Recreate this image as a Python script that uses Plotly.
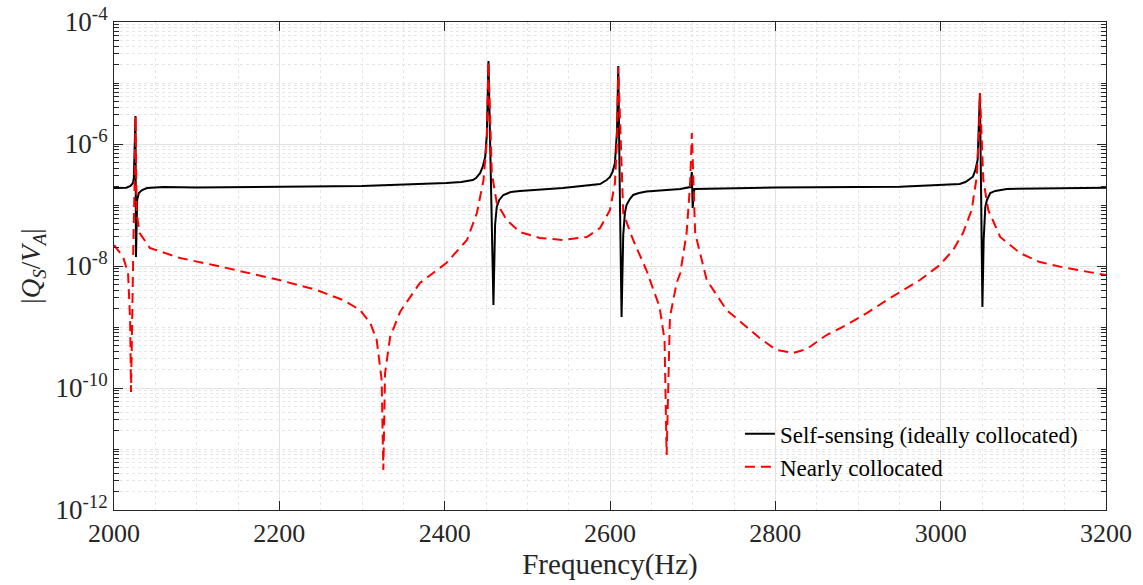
import plotly.graph_objects as go

# Self-sensing (ideally collocated) curve: frequency (Hz) and |Qs/Va|
freq_self = [2000, 2015, 2020, 2023, 2024, 2025, 2026, 2026.6, 2028, 2030, 2034, 2040, 2060, 2100,
             2200, 2300, 2402, 2420, 2434, 2438, 2443, 2446, 2449, 2451, 2453, 2456, 2459, 2461,
             2463, 2466, 2471, 2480, 2491, 2543, 2588, 2596, 2600, 2603, 2606, 2608.5, 2610, 2612,
             2614, 2616, 2618, 2620, 2624, 2628, 2635, 2644, 2685, 2697, 2699, 2700, 2702, 2800,
             2951, 3023, 3030, 3039, 3042, 3044.7, 3046.5, 3047.5, 3049, 3050.5, 3052, 3054, 3056,
             3060, 3066, 3080, 3200]
mag_self = [1.90e-7, 1.92e-7, 2.05e-7, 2.30e-7, 2.77e-7, 7.98e-7, 2.88e-6, 1.41e-8, 1.21e-7, 1.57e-7,
            1.76e-7, 1.90e-7, 1.97e-7, 1.94e-7,
            1.97e-7, 2.05e-7, 2.30e-7, 2.38e-7, 2.57e-7, 2.77e-7, 3.35e-7, 4.20e-7, 6.12e-7, 1.41e-6,
            2.30e-5, 1.21e-7, 2.30e-9, 4.70e-8,
            9.27e-8, 1.21e-7, 1.46e-7, 1.63e-7, 1.70e-7, 1.90e-7, 2.21e-7, 2.57e-7, 2.88e-7, 3.47e-7,
            4.88e-7, 1.70e-6, 1.90e-5, 1.21e-7,
            1.46e-9, 3.22e-8, 7.39e-8, 1.00e-7, 1.25e-7, 1.46e-7, 1.57e-7, 1.66e-7, 1.83e-7, 1.97e-7,
            3.47e-7, 8.93e-8, 1.83e-7, 1.94e-7,
            2.00e-7, 2.21e-7, 2.38e-7, 2.91e-7, 3.75e-7, 5.47e-7, 2.05e-6, 6.85e-6, 1.21e-7, 2.13e-9,
            2.67e-8, 9.27e-8, 1.21e-7,
            1.57e-7, 1.70e-7, 1.83e-7, 1.92e-7]

# Nearly collocated curve
freq_near = [2000, 2011, 2017, 2019.5, 2020.6, 2022, 2023.4, 2025, 2026, 2027.4, 2031, 2043.5, 2080,
             2120, 2164.5, 2200, 2245, 2277, 2297.6, 2310, 2317.8, 2323.8, 2325.8, 2327.9, 2334,
             2346, 2350, 2370, 2402, 2427, 2439, 2447, 2451, 2453, 2457, 2463, 2475, 2491, 2515,
             2543, 2572, 2588, 2600, 2606, 2608.5, 2610, 2616, 2628, 2644, 2660, 2666, 2668.5,
             2672.5, 2680.6, 2685, 2692.7, 2697, 2699, 2703, 2717, 2741, 2769, 2781, 2801, 2821.5,
             2838, 2862, 2886, 2911, 2935, 2960, 2975, 2999, 3015, 3027, 3037.5, 3043.6, 3046.5,
             3047.5, 3051.6, 3057.6, 3072, 3096, 3120, 3152, 3200]
mag_near = [2.21e-8, 1.41e-8, 7.67e-9, 1.30e-9, 8.59e-11, 2.77e-9, 2.05e-8, 2.57e-7, 2.88e-6, 7.39e-8,
            3.47e-8, 1.97e-8, 1.35e-8,
            1.04e-8, 7.67e-9, 5.89e-9, 4.05e-9, 2.77e-9, 1.90e-9, 1.16e-9, 6.12e-10, 1.35e-10, 4.53e-12,
            1.76e-10, 6.85e-10,
            1.76e-9, 2.13e-9, 5.26e-9, 1.12e-8, 2.67e-8, 7.39e-8, 2.57e-7, 1.16e-6, 2.21e-5, 3.35e-7,
            1.08e-7, 5.68e-8, 3.61e-8, 2.88e-8,
            2.67e-8, 2.99e-8, 4.20e-8, 8.28e-8, 2.30e-7, 1.16e-6, 1.83e-5, 7.39e-8, 2.67e-8, 8.59e-9,
            2.13e-9, 6.12e-10, 7.98e-12,
            1.46e-9, 5.26e-9, 7.67e-9, 3.47e-8, 2.30e-7, 1.51e-6, 3.47e-8, 5.89e-9, 1.90e-9, 8.93e-10,
            6.61e-10, 4.20e-10, 3.75e-10,
            4.36e-10, 7.39e-10, 1.08e-9, 1.70e-9, 2.77e-9, 4.36e-9, 5.89e-9, 1.04e-8, 1.83e-8, 3.47e-8,
            8.28e-8, 2.88e-7, 1.70e-6,
            6.85e-6, 2.57e-7, 8.28e-8, 2.99e-8, 1.63e-8, 1.16e-8, 9.27e-9, 7.11e-9]

x_ticks = [2000, 2200, 2400, 2600, 2800, 3000, 3200]
y_ticks = [1e-12, 1e-10, 1e-8, 1e-6, 1e-4]
y_tick_text = ["10<sup>-12</sup>", "10<sup>-10</sup>", "10<sup>-8</sup>", "10<sup>-6</sup>", "10<sup>-4</sup>"]

y_minor = []
for e in range(-12, -4):
    for m in range(1, 10):
        if m == 1 and e % 2 == 0:
            continue
        y_minor.append(m * 10.0 ** e)

FONT = "Liberation Serif, Times New Roman, serif"
AX = "#262626"

fig = go.Figure()
fig.add_trace(go.Scatter(x=freq_self, y=mag_self, mode="lines",
                         name="Self-sensing (ideally collocated)",
                         line=dict(color="black", width=2)))
fig.add_trace(go.Scatter(x=freq_near, y=mag_near, mode="lines",
                         name="Nearly collocated",
                         line=dict(color="#ff0000", width=2, dash="10px,6px")))

fig.update_layout(
    width=1143, height=585,
    margin=dict(l=114, r=37, t=22, b=75, autoexpand=False),
    paper_bgcolor="white", plot_bgcolor="white",
    font=dict(family=FONT, color=AX, size=22),
    showlegend=True,
    legend=dict(x=0.631, y=0.2, xanchor="left", yanchor="top",
                bgcolor="rgba(0,0,0,0)", borderwidth=0,
                font=dict(family=FONT, size=23, color="black"),
                tracegroupgap=0),
    xaxis=dict(
        range=[2000, 3200], tickvals=x_ticks, ticktext=[str(v) for v in x_ticks],
        showline=True, linecolor=AX, linewidth=1, mirror="ticks",
        ticks="inside", ticklen=9, tickcolor=AX,
        showgrid=True, gridcolor="#e2e2e2", gridwidth=1,
        minor=dict(dtick=50, tick0=2000, showgrid=True, gridcolor="#e6e6e6",
                   griddash="dot", ticks=""),
        zeroline=False, automargin=False,
        title=dict(text="Frequency(Hz)", font=dict(size=29, family=FONT, color=AX), standoff=2),
        tickfont=dict(size=26, family=FONT, color=AX),
    ),
    yaxis=dict(
        type="log", range=[-12, -4],
        tickmode="array", tickvals=y_ticks, ticktext=y_tick_text,
        showline=True, linecolor=AX, linewidth=1, mirror="ticks",
        ticks="inside", ticklen=9, tickcolor=AX,
        showgrid=True, gridcolor="#e2e2e2", gridwidth=1,
        minor=dict(tickmode="array", tickvals=y_minor, showgrid=True, gridcolor="#e6e6e6",
                   griddash="dot", ticks="inside", ticklen=5, tickcolor=AX),
        zeroline=False, automargin=False,
        title=dict(text="|<i>Q<sub>S</sub></i>/<i>V<sub>A</sub></i>|",
                   font=dict(size=27, family=FONT, color=AX), standoff=6),
        tickfont=dict(size=27, family=FONT, color=AX),
    ),
)

fig.write_html("out.html")
